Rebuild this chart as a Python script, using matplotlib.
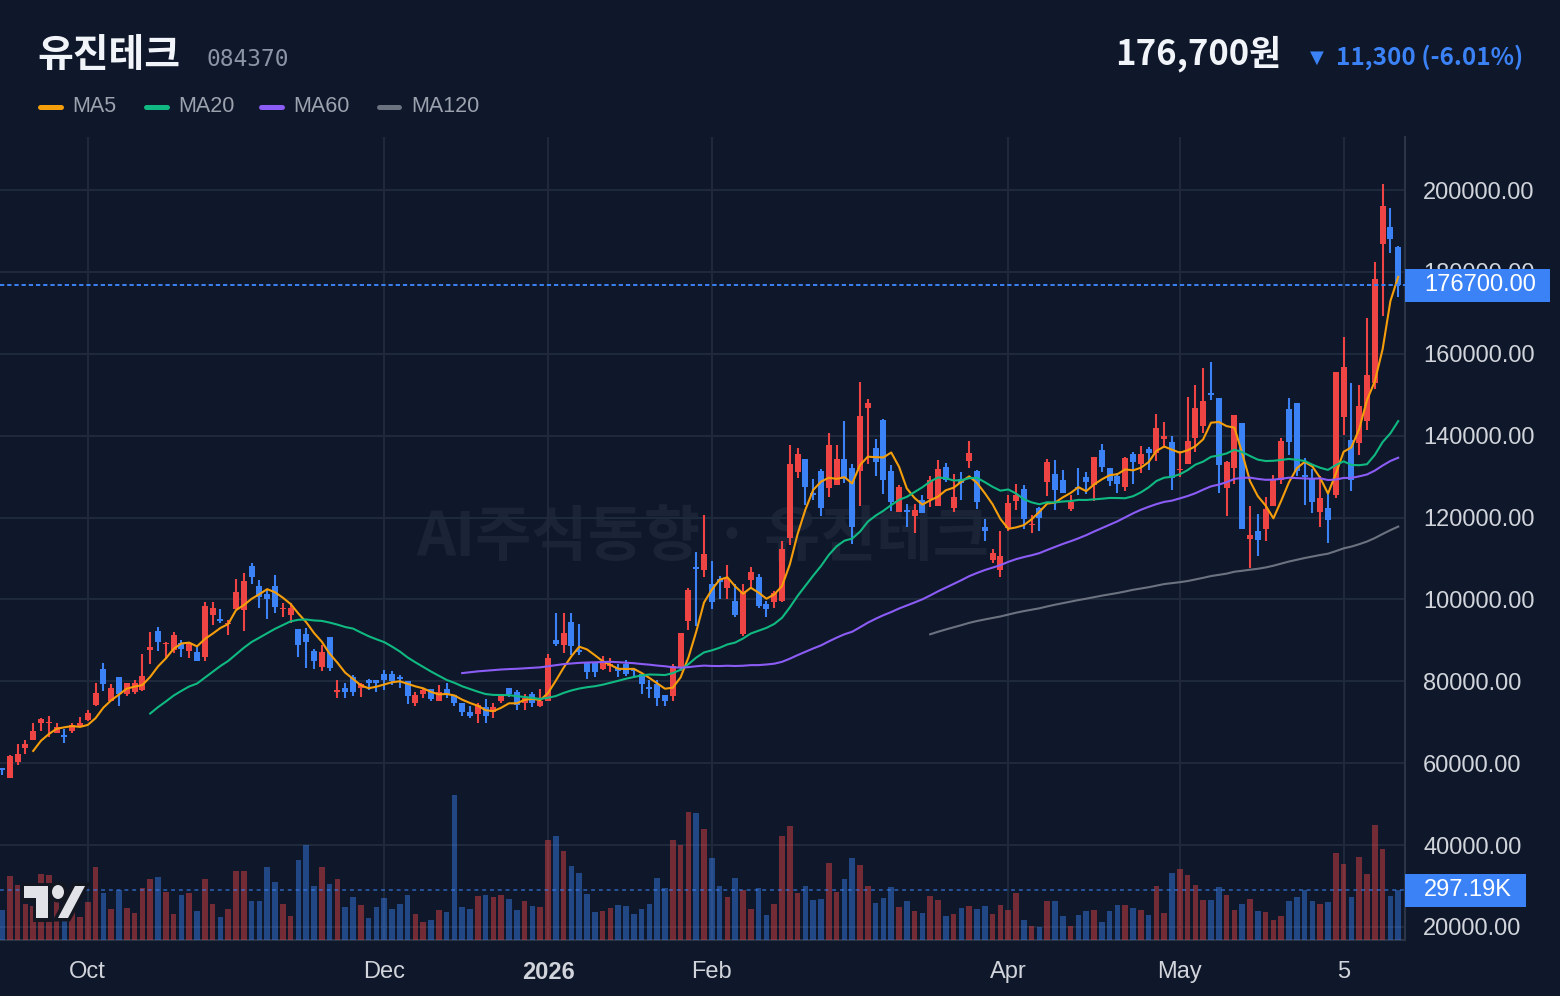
import numpy as np
import pandas as pd
import matplotlib
matplotlib.use('Agg')
import matplotlib.pyplot as plt
from matplotlib.patches import Rectangle, Polygon, Ellipse
from matplotlib.lines import Line2D

BG = '#0f172a'
GRID = '#1e293b'
UP = '#ef4444'
DOWN = '#3b82f6'
CJK = ['Noto Sans CJK KR', 'DejaVu Sans']

# 일봉 OHLC (천원)
opens = [58.7, 56.4, 60.4, 63.7, 65.6, 69.8, 69.7, 67.4, 67.0, 67.9, 68.8, 70.6, 74.2, 82.9, 75.3, 81.0, 76.8, 77.3, 77.8, 87.6,
         92.2, 89.1, 87.6, 89.3, 87.3, 87.1, 85.9, 96.3, 95.3, 93.9, 97.6, 97.4, 108.2, 103.2, 101.2, 103.2, 97.6, 96.1, 92.7, 91.5,
         87.3, 83.4, 90.7, 77.5, 78.3, 81.0, 78.3, 80.2, 80.2, 81.7, 81.9, 81.0, 80.0, 74.8, 77.0, 78.0, 75.3, 78.0, 76.6, 74.6,
         72.4, 71.9, 73.6, 72.4, 75.3, 78.3, 77.5, 74.6, 77.0, 73.9, 75.1, 90.2, 88.9, 94.6, 87.6, 84.6, 84.4, 82.9, 83.7, 83.2,
         84.1, 82.9, 81.7, 78.6, 79.3, 76.6, 76.3, 83.4, 94.7, 107.9, 107.3, 103.7, 105.1, 102.9, 99.5, 91.5, 104.7, 105.4, 98.8, 99.3,
         99.5, 114.9, 131.0, 134.2, 126.0, 131.4, 127.1, 128.0, 134.2, 132.2, 131.4, 146.8, 137.1, 143.8, 131.4, 121.4, 121.9, 120.4, 124.3, 124.5,
         122.8, 132.4, 122.3, 129.4, 133.8, 131.4, 117.8, 109.6, 107.3, 117.4, 124.0, 127.0, 118.2, 122.3, 128.7, 130.6, 129.2, 122.1, 127.5, 129.9,
         127.9, 136.5, 132.1, 130.1, 127.4, 135.5, 133.1, 136.8, 135.8, 139.2, 138.5, 131.6, 133.1, 139.4, 142.4, 150.4, 149.2, 127.2, 132.1, 143.1,
         114.8, 116.7, 117.2, 122.8, 129.2, 146.5, 148.0, 130.4, 129.7, 121.4, 122.3, 125.5, 144.6, 138.9, 138.2, 143.6, 152.9, 186.8, 191.0, 186.1]
highs = [58.8, 61.9, 64.7, 65.7, 69.8, 71.1, 71.6, 69.8, 68.3, 69.8, 71.3, 73.1, 79.6, 84.4, 79.3, 81.0, 79.6, 80.2, 86.7, 92.0,
         93.2, 89.5, 92.0, 90.2, 89.5, 88.6, 99.3, 99.3, 97.6, 95.0, 105.0, 106.5, 108.9, 104.7, 102.4, 106.0, 99.0, 99.0, 92.7, 93.0,
         88.0, 88.8, 90.7, 80.2, 79.6, 81.5, 79.6, 80.5, 80.2, 82.7, 82.4, 81.5, 80.0, 77.5, 78.3, 78.0, 79.1, 79.6, 76.6, 74.6,
         73.9, 74.8, 75.6, 74.6, 77.0, 78.3, 77.8, 76.8, 77.5, 78.0, 86.7, 96.8, 96.8, 96.8, 93.9, 84.6, 84.4, 86.1, 85.6, 84.1,
         85.1, 83.2, 81.7, 80.2, 80.2, 76.6, 84.1, 91.9, 102.9, 111.5, 120.5, 109.5, 105.6, 108.3, 103.7, 103.7, 107.8, 106.1, 99.5, 102.0,
         114.2, 137.6, 137.1, 134.2, 129.4, 131.9, 140.7, 137.6, 143.5, 133.0, 153.1, 149.0, 139.1, 144.1, 132.9, 128.0, 123.4, 123.2, 125.5, 130.1,
         134.1, 133.4, 130.6, 131.2, 138.7, 131.6, 119.6, 112.2, 116.6, 125.5, 128.2, 128.0, 120.6, 122.6, 134.3, 134.1, 131.6, 125.5, 132.1, 131.2,
         134.8, 138.0, 132.1, 130.9, 134.8, 136.0, 137.5, 137.2, 145.3, 143.3, 140.0, 136.3, 149.5, 152.4, 156.5, 158.0, 149.2, 133.8, 145.0, 143.1,
         122.8, 120.9, 125.0, 130.4, 139.4, 149.2, 148.0, 134.5, 131.9, 130.1, 126.0, 155.5, 164.1, 152.9, 152.4, 168.7, 182.4, 201.5, 195.6, 186.3]
lows = [57.1, 56.4, 59.5, 62.3, 65.6, 67.8, 66.3, 67.4, 64.9, 67.4, 68.8, 70.3, 73.9, 77.6, 75.1, 73.9, 76.5, 76.8, 77.6, 84.2,
        87.5, 85.5, 87.0, 85.9, 85.7, 84.9, 84.9, 93.8, 94.2, 91.3, 97.6, 92.4, 103.7, 97.8, 95.3, 96.8, 95.8, 94.2, 85.9, 83.2,
        83.0, 82.5, 82.5, 75.8, 75.8, 76.5, 76.1, 77.8, 77.5, 77.8, 79.1, 78.3, 74.4, 73.9, 76.0, 75.1, 75.3, 76.0, 73.9, 71.6,
        71.1, 69.8, 69.8, 71.1, 74.6, 76.1, 73.1, 73.1, 73.6, 73.6, 75.1, 88.7, 86.9, 86.4, 86.3, 80.5, 81.0, 82.7, 82.2, 81.0,
        81.2, 80.7, 76.8, 76.0, 73.9, 73.9, 75.3, 82.4, 92.5, 93.6, 105.4, 97.6, 100.0, 100.2, 95.6, 91.0, 102.7, 98.0, 95.8, 98.0,
        99.3, 113.4, 129.7, 123.0, 124.3, 120.4, 124.9, 128.0, 128.5, 113.6, 122.8, 133.1, 130.1, 125.7, 121.6, 121.4, 117.7, 116.2, 121.1, 122.6,
        122.8, 128.7, 121.4, 124.3, 132.1, 122.1, 114.3, 108.9, 105.4, 116.6, 121.9, 117.2, 116.2, 116.7, 125.3, 121.9, 126.0, 121.6, 125.5, 125.7,
        124.0, 131.1, 127.7, 126.0, 126.5, 128.2, 130.9, 131.6, 133.8, 137.0, 126.7, 129.9, 133.1, 136.0, 140.6, 148.7, 126.0, 120.4, 128.2, 117.2,
        107.7, 110.6, 114.3, 122.8, 128.2, 135.3, 130.1, 123.1, 121.1, 117.7, 113.8, 124.8, 140.2, 126.5, 135.3, 141.4, 151.4, 169.2, 184.6, 173.9]
closes = [58.3, 61.8, 62.3, 64.7, 67.8, 70.8, 69.9, 68.8, 66.5, 69.3, 69.8, 72.3, 77.1, 79.3, 78.3, 76.8, 79.5, 79.6, 81.2, 88.3,
          89.5, 89.3, 91.3, 87.8, 89.3, 84.9, 98.3, 97.8, 94.8, 94.1, 101.9, 104.4, 105.5, 100.5, 100.2, 98.1, 97.8, 97.8, 88.8, 89.7,
          84.9, 87.1, 83.2, 77.8, 77.5, 77.3, 79.3, 79.6, 79.7, 80.2, 80.0, 80.5, 76.5, 76.6, 77.8, 75.6, 77.5, 77.0, 74.8, 72.6,
          71.6, 74.1, 71.6, 73.6, 76.8, 77.0, 74.1, 75.8, 74.8, 75.3, 85.6, 89.2, 91.7, 88.7, 87.1, 82.2, 82.2, 84.4, 84.1, 82.4,
          81.9, 82.4, 79.3, 78.1, 75.8, 75.3, 83.7, 91.9, 102.2, 107.4, 111.0, 99.3, 104.2, 105.1, 96.3, 102.0, 106.6, 98.3, 97.6, 101.5,
          112.2, 133.0, 135.6, 127.4, 125.5, 122.3, 137.8, 134.2, 129.5, 117.8, 144.8, 148.0, 133.6, 129.2, 123.8, 127.5, 121.4, 121.9, 121.1, 129.2,
          131.9, 129.2, 125.0, 128.5, 135.7, 123.8, 116.8, 111.3, 110.7, 123.6, 125.5, 119.6, 118.4, 119.9, 133.6, 126.7, 126.0, 123.8, 127.0, 128.7,
          134.8, 132.3, 128.9, 128.2, 134.6, 133.6, 135.5, 135.8, 141.9, 139.9, 129.7, 131.9, 138.7, 146.8, 148.5, 149.9, 132.8, 133.6, 145.0, 117.2,
          115.8, 114.5, 122.1, 129.4, 138.7, 138.5, 131.4, 129.9, 123.8, 124.8, 119.4, 155.5, 156.8, 129.2, 147.2, 154.8, 178.3, 196.1, 188.0, 176.7]
# 거래량 (천주)
volumes = [178, 380, 327, 214, 200, 392, 386, 250, 180, 200, 137, 226, 434, 279, 184, 297, 190, 160, 309, 363,
           374, 285, 155, 267, 279, 172, 363, 214, 137, 184, 410, 410, 232, 232, 434, 345, 214, 143, 476, 565,
           321, 434, 333, 363, 196, 256, 208, 131, 196, 250, 184, 214, 267, 155, 107, 119, 178, 166, 862, 196,
           184, 262, 267, 256, 267, 244, 178, 232, 202, 196, 594, 618, 529, 440, 398, 273, 166, 172, 190, 208,
           202, 155, 184, 214, 369, 309, 594, 565, 761, 755, 660, 487, 321, 256, 369, 297, 184, 309, 149, 214,
           618, 678, 279, 321, 238, 244, 458, 285, 363, 487, 446, 321, 220, 250, 315, 196, 232, 172, 160, 262,
           238, 143, 155, 190, 202, 184, 202, 155, 208, 178, 279, 119, 83, 77, 232, 232, 143, 83, 149, 172,
           178, 107, 172, 208, 208, 190, 178, 149, 321, 160, 398, 422, 386, 327, 238, 238, 315, 267, 178, 214,
           244, 172, 166, 119, 143, 232, 256, 297, 232, 214, 226, 517, 452, 256, 493, 392, 684, 541, 262, 297.19]

month_pos = [11, 49, 70, 91, 129, 151, 172]
month_labels = ['Oct', 'Dec', '2026', 'Feb', 'Apr', 'May', '5']
price_ticks = [20000, 40000, 60000, 80000, 100000, 120000, 140000, 160000, 180000, 200000]
ma_periods = [5, 20, 60, 120]
ma_colors = ['#f59e0b', '#10b981', '#8b5cf6', '#6b7280']

o = np.array(opens) * 1000
h = np.array(highs) * 1000
l = np.array(lows) * 1000
c = np.array(closes) * 1000
v = np.array(volumes)
x = np.arange(len(c))
up = c >= o
col = np.where(up, UP, DOWN)

W, H = 1560, 996
fig = plt.figure(figsize=(W / 100, H / 100), dpi=100, facecolor=BG)


def fx(px):
    return px / W


def fy(py):
    return 1 - py / H


ax = fig.add_axes([0, fy(940), fx(1405), (940 - 137) / H])
ax.set_facecolor(BG)
ax.set_xlim(-0.256, 179.87)
ax.set_ylim(16805, 212946)
ax2 = ax.twinx()

# grid / axes
ax.set_yticks(price_ticks)
ax.set_yticklabels(['{:.2f}'.format(t) for t in price_ticks])
ax.set_xticks(month_pos)
ax.set_xticklabels(month_labels)
ax.grid(True, color=GRID, lw=1.5)
ax.yaxis.tick_right()
ax.tick_params(axis='y', left=False, right=False, labelleft=False, labelright=True,
               length=0, pad=13, labelsize=17, labelcolor='#d1d5db')
ax.tick_params(axis='x', length=0, pad=15, labelsize=17, labelcolor='#d1d5db')
for lab in ax.get_xticklabels() + ax.get_yticklabels():
    lab.set_family('Liberation Sans')
ax.get_xticklabels()[2].set_fontweight('bold')
for s in ['top', 'left']:
    ax.spines[s].set_visible(False)
for s in ['bottom', 'right']:
    ax.spines[s].set_color('#2b3546')
    ax.spines[s].set_linewidth(1.5)

# watermark
ax.text(0.5, 0.5, 'AI주식동향 · 유진테크', transform=ax.transAxes, ha='center', va='center',
        fontsize=44, fontweight='bold', color='#1b2436', family=CJK, zorder=1)

# candles
ax.vlines(x, l, h, colors=col, lw=1.5, zorder=3)
body_lo = np.minimum(o, c)
body_h = np.maximum(np.abs(c - o), 300)
ax.bar(x, body_h, bottom=body_lo, width=0.76, color=col, lw=0, zorder=4)

# moving averages
for p, mc in zip(ma_periods, ma_colors):
    ma = pd.Series(c).rolling(p).mean()
    ax.plot(x, ma, color=mc, lw=1.5, zorder=5)

# current price line
last = c[-1]
ax.axhline(last, color=DOWN, lw=1.4, linestyle=(0, (2.2, 1.5)), zorder=6)

# volume
ax2.set_ylim(0, 297.19 * 803 / 50)
ax2.set_xlim(ax.get_xlim())
ax2.bar(x, v, width=0.72, color=col, alpha=0.45, lw=0, zorder=2)
ax2.axhline(v[-1], color=DOWN, alpha=0.55, lw=1.4, linestyle=(0, (2.0, 2.0)))
ax2.tick_params(axis='y', left=False, right=False, labelleft=False, labelright=False)
for s in ax2.spines.values():
    s.set_visible(False)

# right-side value tags
to_fig = fig.transFigure.inverted()
yp = to_fig.transform(ax.transData.transform((0, last)))[1]
fig.add_artist(Rectangle((fx(1405), yp - 16.5 / H), fx(145), 33 / H, transform=fig.transFigure,
                         fc=DOWN, ec='none', zorder=5))
fig.text(fx(1424), yp, '{:.2f}'.format(last), color='white', fontsize=17, family='Liberation Sans',
         ha='left', va='center', zorder=6)
yv = to_fig.transform(ax2.transData.transform((0, v[-1])))[1]
fig.add_artist(Rectangle((fx(1405), yv - 16.5 / H), fx(121), 33 / H, transform=fig.transFigure,
                         fc=DOWN, ec='none', zorder=5))
fig.text(fx(1424), yv, '{:.2f}K'.format(v[-1]), color='white', fontsize=17, family='Liberation Sans',
         ha='left', va='center', zorder=6)

# header
fig.text(fx(37), fy(55), '유진테크', fontsize=28, fontweight='bold', color='#f1f5f9', family=CJK, va='center')
fig.text(fx(206), fy(59), '084370', fontsize=16.5, color='#8b95a5', family='DejaVu Sans Mono', va='center')
chg = c[-1] - c[-2]
fig.text(fx(1281), fy(54), '{:,.0f}원'.format(last), fontsize=25, fontweight='bold', color='#f1f5f9',
         family=CJK, ha='right', va='center')
fig.text(fx(1523), fy(57), '{:,.0f} ({:.2f}%)'.format(abs(chg), chg / c[-2] * 100), fontsize=17.5,
         fontweight='bold', color=DOWN, family=CJK, ha='right', va='center')
fig.text(fx(1317), fy(58), '▼', fontsize=13, color=DOWN, family='DejaVu Sans', ha='center', va='center')

# legend
leg_x = [37, 143, 258, 376]
for lx, p, mc in zip(leg_x, ma_periods, ma_colors):
    fig.add_artist(Line2D([fx(lx + 2.5), fx(lx + 23.5)], [fy(107), fy(107)], color=mc, lw=3.6,
                          solid_capstyle='round', transform=fig.transFigure))
    fig.text(fx(lx + 35), fy(107), 'MA{}'.format(p), fontsize=15.5, color='#9ca3af',
             family='Liberation Sans', va='center')

# tradingview-like logo: dark halo first, white shapes on top
logo_fc = '#e1e3e8'
logo_ec = '#131722'
t_shape = [(fx(24), fy(886)), (fx(48), fy(886)), (fx(48), fy(918)), (fx(36), fy(918)),
           (fx(36), fy(898)), (fx(24), fy(898))]
slash = [(fx(58), fy(918)), (fx(75), fy(886)), (fx(85), fy(886)), (fx(68), fy(918))]
for fc, ec, lw, z in [(logo_ec, logo_ec, 5, 7), (logo_fc, 'none', 0, 8)]:
    fig.add_artist(Polygon(t_shape, closed=True, transform=fig.transFigure, fc=fc, ec=ec, lw=lw, zorder=z))
    fig.add_artist(Ellipse((fx(58), fy(892)), fx(12), 14 / H, transform=fig.transFigure,
                           fc=fc, ec=ec, lw=lw, zorder=z))
    fig.add_artist(Polygon(slash, closed=True, transform=fig.transFigure, fc=fc, ec=ec, lw=lw, zorder=z))

fig.savefig('out.png', dpi=100, facecolor=BG)
